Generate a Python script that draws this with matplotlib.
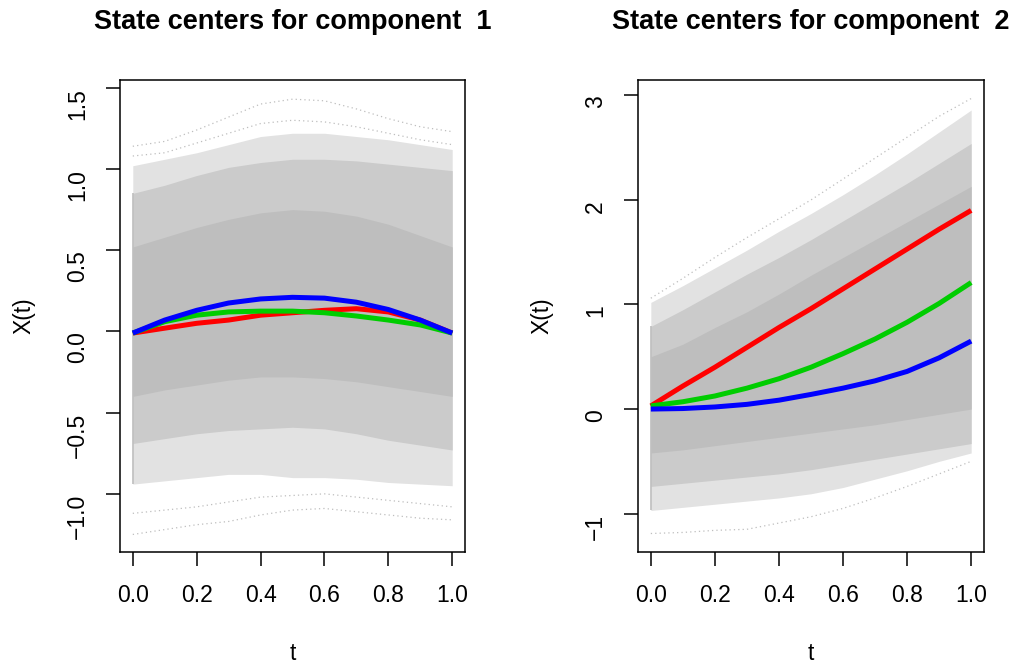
import matplotlib
matplotlib.use("Agg")
import matplotlib.pyplot as plt
import numpy as np

# ---------------- data ----------------
t = [0.0, 0.1, 0.2, 0.3, 0.4, 0.5, 0.6, 0.7, 0.8, 0.9, 1.0]

# component 1 state centres
c1_red   = [-0.01, 0.02, 0.05, 0.07, 0.10, 0.115, 0.13, 0.14, 0.12, 0.07, -0.01]
c1_green = [-0.01, 0.06, 0.10, 0.12, 0.125, 0.125, 0.115, 0.095, 0.07, 0.04, -0.01]
c1_blue  = [-0.01, 0.07, 0.13, 0.175, 0.20, 0.21, 0.205, 0.18, 0.135, 0.07, -0.01]

# component 1 sample-curve cloud (envelopes)
c1_core_hi = [0.52, 0.58, 0.64, 0.69, 0.73, 0.75, 0.74, 0.71, 0.66, 0.59, 0.52]
c1_core_lo = [-0.40, -0.36, -0.33, -0.30, -0.28, -0.28, -0.29, -0.31, -0.34, -0.37, -0.40]
c1_mid_hi  = [0.85, 0.90, 0.96, 1.01, 1.04, 1.06, 1.06, 1.05, 1.03, 1.01, 0.99]
c1_mid_lo  = [-0.69, -0.66, -0.63, -0.61, -0.60, -0.59, -0.60, -0.63, -0.67, -0.70, -0.73]
c1_sp_hi   = [1.02, 1.06, 1.10, 1.15, 1.20, 1.22, 1.22, 1.20, 1.18, 1.15, 1.12]
c1_sp_lo   = [-0.94, -0.92, -0.90, -0.88, -0.88, -0.90, -0.90, -0.91, -0.93, -0.94, -0.95]
c1_out_hi  = [1.14, 1.17, 1.24, 1.32, 1.40, 1.43, 1.42, 1.37, 1.31, 1.26, 1.23]
c1_out_lo  = [-1.25, -1.22, -1.19, -1.17, -1.13, -1.10, -1.09, -1.11, -1.13, -1.15, -1.16]
c1_out2_hi = [1.08, 1.10, 1.16, 1.22, 1.28, 1.30, 1.29, 1.26, 1.22, 1.18, 1.15]
c1_out2_lo = [-1.12, -1.10, -1.08, -1.05, -1.02, -1.01, -1.00, -1.02, -1.04, -1.06, -1.08]

# component 2 state centres
c2_red   = [0.03, 0.22, 0.40, 0.59, 0.78, 0.96, 1.15, 1.34, 1.53, 1.72, 1.90]
c2_green = [0.03, 0.07, 0.125, 0.20, 0.29, 0.40, 0.53, 0.67, 0.83, 1.01, 1.21]
c2_blue  = [0.0, 0.005, 0.02, 0.045, 0.085, 0.14, 0.20, 0.27, 0.36, 0.49, 0.65]

# component 2 sample-curve cloud (envelopes)
c2_core_hi = [0.50, 0.62, 0.78, 0.93, 1.10, 1.28, 1.45, 1.62, 1.79, 1.96, 2.13]
c2_core_lo = [-0.42, -0.39, -0.35, -0.31, -0.27, -0.23, -0.19, -0.15, -0.10, -0.05, 0.0]
c2_mid_hi  = [0.79, 0.95, 1.12, 1.29, 1.45, 1.62, 1.80, 1.98, 2.16, 2.35, 2.54]
c2_mid_lo  = [-0.74, -0.71, -0.68, -0.65, -0.62, -0.58, -0.53, -0.48, -0.43, -0.38, -0.33]
c2_sp_hi   = [1.02, 1.18, 1.35, 1.52, 1.70, 1.87, 2.05, 2.24, 2.44, 2.65, 2.86]
c2_sp_lo   = [-0.97, -0.94, -0.91, -0.88, -0.85, -0.81, -0.75, -0.67, -0.59, -0.50, -0.42]
c2_out_hi  = [1.06, 1.25, 1.45, 1.64, 1.82, 2.00, 2.20, 2.40, 2.60, 2.80, 2.97]
c2_out_lo  = [-1.19, -1.18, -1.16, -1.15, -1.09, -1.03, -0.95, -0.85, -0.74, -0.62, -0.50]

x_ticks = [0.0, 0.2, 0.4, 0.6, 0.8, 1.0]
x_ticklabels = ["0.0", "0.2", "0.4", "0.6", "0.8", "1.0"]
y1_ticks = [-1.0, -0.5, 0.0, 0.5, 1.0, 1.5]
y1_ticklabels = ["\u22121.0", "\u22120.5", "0.0", "0.5", "1.0", "1.5"]
y2_ticks = [-1, 0, 1, 2, 3]
y2_ticklabels = ["\u22121", "0", "1", "2", "3"]

titles = ["State centers for component  1", "State centers for component  2"]

# ---------------- drawing ----------------
plt.rcParams['font.family'] = ['Liberation Sans', 'DejaVu Sans']
W, H = 1015, 666
fig = plt.figure(figsize=(W / 100, H / 100), dpi=100)

def px_axes(l, r, top, bot):
    return fig.add_axes([l / W, 1 - bot / H, (r - l) / W, (bot - top) / H])

ax1 = px_axes(120, 465, 80, 552)
ax2 = px_axes(638, 984, 80, 552)

FS = 16.5
GRAY = "#BEBEBE"

def draw_cloud(ax, core_hi, core_lo, mid_hi, mid_lo, sp_hi, sp_lo, outs):
    ax.fill_between(t, sp_lo, sp_hi, color="#E2E2E2", lw=0, zorder=1)
    ax.fill_between(t, mid_lo, mid_hi, color="#CBCBCB", lw=0, zorder=2)
    ax.fill_between(t, core_lo, core_hi, color=GRAY, lw=0, zorder=3)
    for o in outs:
        ax.plot(t, o, color=GRAY, lw=0.9, ls=(0, (1, 2.5)), zorder=2)
    ax.vlines(t[0], sp_lo[0], mid_hi[0], color=GRAY, lw=1.2, zorder=3)

draw_cloud(ax1, c1_core_hi, c1_core_lo, c1_mid_hi, c1_mid_lo, c1_sp_hi, c1_sp_lo,
           [c1_out_hi, c1_out_lo, c1_out2_hi, c1_out2_lo])
draw_cloud(ax2, c2_core_hi, c2_core_lo, c2_mid_hi, c2_mid_lo, c2_sp_hi, c2_sp_lo,
           [c2_out_hi, c2_out_lo])

LW = 3.6
for ax, (r, g, b) in ((ax1, (c1_red, c1_green, c1_blue)), (ax2, (c2_red, c2_green, c2_blue))):
    ax.plot(t, r, color="#FF0000", lw=LW, zorder=5, solid_capstyle="butt")
    ax.plot(t, g, color="#00CD00", lw=LW, zorder=6, solid_capstyle="butt")
    ax.plot(t, b, color="#0000FF", lw=LW, zorder=7, solid_capstyle="butt")

ax1.set_ylim(-1.358, 1.548)
ax2.set_ylim(-1.367, 3.147)
ax1.set_yticks(y1_ticks)
ax1.set_yticklabels(y1_ticklabels)
ax2.set_yticks(y2_ticks)
ax2.set_yticklabels(y2_ticklabels)

for ax, title in ((ax1, titles[0]), (ax2, titles[1])):
    ax.set_xlim(-0.04, 1.04)
    ax.set_xticks(x_ticks)
    ax.set_xticklabels(x_ticklabels)
    for s in ax.spines.values():
        s.set_linewidth(1.1)
        s.set_color("black")
    ax.tick_params(axis="both", direction="out", length=10, width=1.1,
                   labelsize=FS, colors="black")
    ax.tick_params(axis="x", pad=13)
    ax.tick_params(axis="y", pad=20.5)
    for lab in ax.get_yticklabels():
        lab.set_rotation(90)
        lab.set_va("center")
        lab.set_ha("right")
        lab.set_rotation_mode("anchor")
    ax.set_xlabel("t", fontsize=FS, labelpad=25)
    ax.set_ylabel("X(t)", fontsize=FS, labelpad=22)
    ax.set_title(title, fontsize=19.5, fontweight="bold", pad=36.5)

fig.savefig("out.png", dpi=100)
